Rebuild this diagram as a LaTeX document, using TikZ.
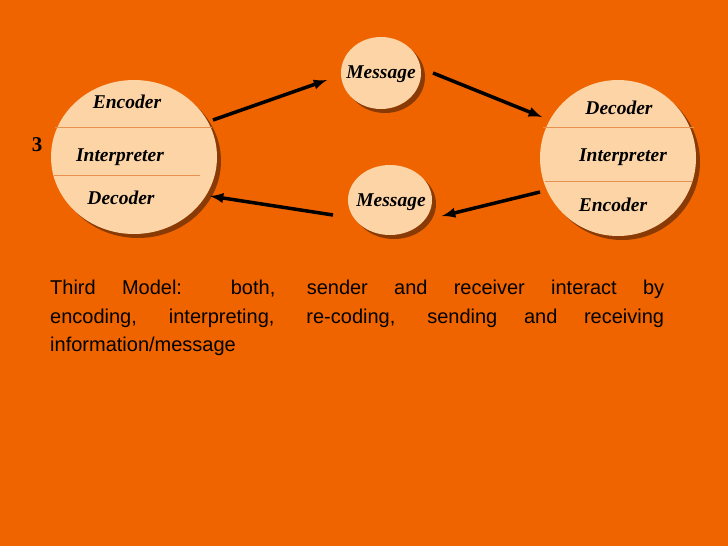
\documentclass[tikz,border=0pt]{standalone}
\usepackage{fontspec}
\usetikzlibrary{shapes.geometric}
\setmainfont{Liberation Serif}
\newfontfamily\arialf{Liberation Sans}
\definecolor{bg}{HTML}{F06400}
\definecolor{disc}{HTML}{FDD4A6}
\definecolor{shad}{HTML}{8A3A05}
\definecolor{sep}{HTML}{E89050}
\begin{document}
\begin{tikzpicture}[x=1pt,y=-1pt,
  lbl/.style={font=\bfseries\itshape\fontsize{19.5}{22}\selectfont},
  arr/.style={-latex,line width=3.5pt,black}]
\fill[bg] (0,0) rectangle (728,546);
\useasboundingbox (0,0) rectangle (728,546);
% shadows
\fill[shad] (138,161) ellipse (83 and 77);
\fill[shad] (622,162) ellipse (78 and 78);
\fill[shad] (385,77) ellipse (40 and 36);
\fill[shad] (394,204) ellipse (42 and 35);
% discs
\node[fill=disc,ellipse,minimum width=166,minimum height=154,inner sep=0] (L) at (134,157) {};
\node[fill=disc,circle,minimum size=156,inner sep=0] (R) at (618,158) {};
\node[fill=disc,ellipse,minimum width=80,minimum height=72,inner sep=0] (M1) at (381,73) {};
\node[fill=disc,ellipse,minimum width=84,minimum height=70,inner sep=0] (M2) at (390,200) {};
% separators
\draw[sep] (55,127) -- (212,127);
\draw[sep] (54,175) -- (200,175);
\draw[sep] (543,127) -- (694,127);
\draw[sep] (545,181) -- (692,181);
% labels
\node[lbl] (le) at (127,102) {Encoder};
\node[lbl] (li) at (120,157) {Interpreter};
\node[lbl] (ld) at (121,198) {Decoder};
\node[lbl] (re) at (619,108) {Decoder};
\node[lbl] (ri) at (623,157) {Interpreter};
\node[lbl] (rd) at (613,205) {Encoder};
\node[lbl] (m1) at (381,74) {Message};
\node[lbl] (m2) at (391,202) {Message};
\node[font=\bfseries\fontsize{21}{23}\selectfont] (n3) at (37,145) {3};
% arrows
\coordinate (a1) at (213,120); \coordinate (a2) at (327,80);
\coordinate (b1) at (433,73); \coordinate (b2) at (542,117);
\coordinate (c1) at (540,192); \coordinate (c2) at (442,216);
\coordinate (d1) at (333,215); \coordinate (d2) at (210,196);
\draw[arr] (a1) -- (a2);
\draw[arr] (b1) -- (b2);
\draw[arr] (c1) -- (c2);
\draw[arr] (d1) -- (d2);
\node[anchor=north west,text width=614pt,align=justify,inner sep=0,
  font=\arialf\fontsize{20}{28.5}\selectfont] (txt) at (50,280)
 {Third Model: both, sender and receiver interact by\linebreak encoding, interpreting, re-coding, sending and receiving\linebreak information/message};
\end{tikzpicture}
\end{document}
